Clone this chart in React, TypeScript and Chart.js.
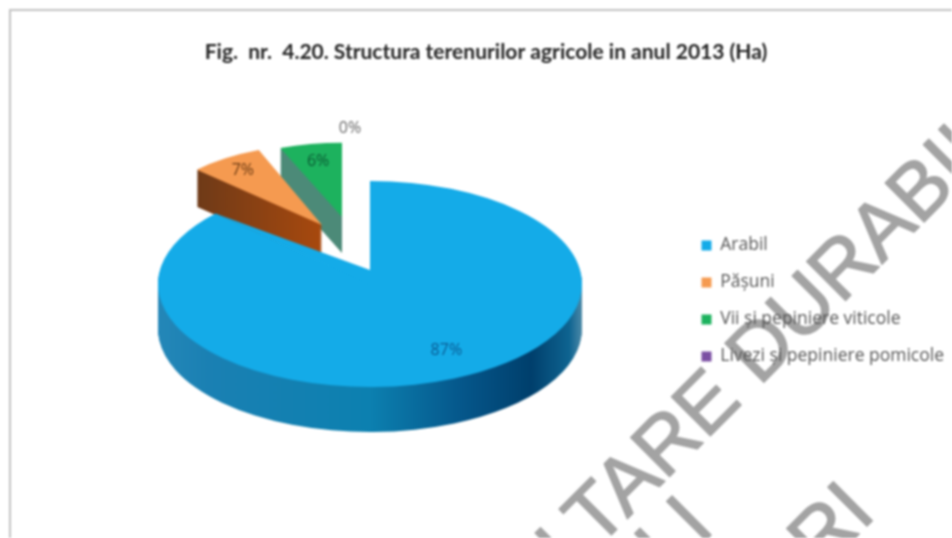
import React, { useEffect, useRef } from "react";
import { Chart, registerables } from "chart.js";

Chart.register(...registerables);

const categories = ["Arabil", "Pășuni", "Vii și pepiniere viticole", "Livezi și pepiniere pomicole"];
const shares = [87, 7, 6, 0];
const percentLabels = ["87%", "7%", "6%", "0%"];
const titleText = "Fig.  nr.  4.20. Structura terenurilor agricole in anul 2013 (Ha)";
const sliceColors = ["#14ABE8", "#F59A50", "#1DB25E", "#7B4FA3"];
const labelColors = ["#0A5A92", "#6B3A12", "#0B5A34", "#666666"];

// Per-slice perspective of the 3D pie (shift + scale relative to the chart's pie centre).
const slicePose = [
  { dx: 0, dy: 0, sx: 1, sy: 0.486, depth: 45, labelR: 0.8, lx: 9, ly: -9 },
  { dx: -48, dy: -59, sx: 0.81, sy: 0.38, depth: 37, labelR: 0.82, lx: 0, ly: 0 },
  { dx: -28, dy: -67, sx: 0.79, sy: 0.35, depth: 36, labelR: 0.76, lx: 0, ly: 0 },
  { dx: -20, dy: -67, sx: 0.79, sy: 0.35, depth: 0, labelR: 1.2, lx: 0, ly: 0 },
];
const apexLift = 14;

const pie3d = {
  id: "pie3d",
  afterLayout(chart: any) {
    const lg = chart.legend;
    const shiftY = 89;
    lg.left = 682;
    lg.right = 952;
    lg.top += shiftY;
    lg.bottom += shiftY;
    chart.titleBlock.left = 0;
    chart.titleBlock.right = 972;
  },
  beforeDraw(chart: any) {
    const c = chart.ctx;
    c.save();
    c.strokeStyle = "#c2c2c2";
    c.lineWidth = 2;
    c.beginPath();
    c.moveTo(10, 538);
    c.lineTo(10, 10);
    c.lineTo(952, 10);
    c.stroke();
    c.restore();
  },
  beforeDatasetDraw(chart: any) {
    const c = chart.ctx;
    const arcs = chart.getDatasetMeta(0).data;
    const { left, right } = chart.chartArea;
    const mainGrad = c.createLinearGradient(left, 0, right, 0);
    mainGrad.addColorStop(0, "#2487b8");
    mainGrad.addColorStop(0.12, "#1a80b3");
    mainGrad.addColorStop(0.5, "#0c80b0");
    mainGrad.addColorStop(0.72, "#05568a");
    mainGrad.addColorStop(0.88, "#003f6c");
    mainGrad.addColorStop(0.97, "#0e6491");
    mainGrad.addColorStop(1, "#4d8aa8");
    const cx = (left + right) / 2;
    const brownGrad = c.createLinearGradient(cx - 155, 0, cx, 0);
    brownGrad.addColorStop(0, "#6e3a18");
    brownGrad.addColorStop(1, "#a8490e");
    const sides = [mainGrad, brownGrad, "#4c8a78", "#000"];
    const order = [2, 1, 0];
    order.forEach((i) => {
      const arc = arcs[i];
      const p = slicePose[i];
      const place = (d: number) => {
        c.translate(arc.x + p.dx, arc.y + p.dy + d);
        c.scale(p.sx, p.sy);
        c.translate(-arc.x, -arc.y);
      };
      const base = arc.options;
      arc.options = Object.create(base, { backgroundColor: { value: sides[i] } });
      for (let d = p.depth; d > 0; d--) {
        c.save();
        place(d);
        arc.draw(c);
        c.restore();
      }
      arc.options = base;
      c.save();
      place(0);
      arc.draw(c);
      c.restore();
      if (i === 0) {
        const ex = arc.x + arc.outerRadius * Math.cos(arc.endAngle);
        const ey = arc.y + p.sy * arc.outerRadius * Math.sin(arc.endAngle);
        c.save();
        c.fillStyle = sliceColors[0];
        c.beginPath();
        c.moveTo(arc.x, arc.y + 1);
        c.lineTo(arc.x, arc.y - apexLift);
        c.lineTo(ex, ey);
        c.closePath();
        c.fill();
        c.restore();
      }
    });
    return false;
  },
  afterDatasetsDraw(chart: any) {
    const c = chart.ctx;
    const arcs = chart.getDatasetMeta(0).data;
    c.save();
    c.font = '16px "Open Sans"';
    c.textAlign = "center";
    c.textBaseline = "middle";
    arcs.forEach((arc: any, i: number) => {
      const p = slicePose[i];
      const mid = (arc.startAngle + arc.endAngle) / 2;
      const r = arc.outerRadius * p.labelR;
      const x = arc.x + p.dx + p.sx * r * Math.cos(mid) + p.lx;
      const y = arc.y + p.dy + p.sy * r * Math.sin(mid) + p.ly;
      c.fillStyle = labelColors[i];
      c.fillText(percentLabels[i], x, y);
    });
    c.restore();
  },
  afterDraw(chart: any) {
    const c = chart.ctx;
    c.save();
    c.globalCompositeOperation = "darken";
    c.fillStyle = "#a3a3a3";
    c.strokeStyle = "#a3a3a3";
    c.lineWidth = 1.5;
    c.lineJoin = "round";
    c.font = '80px "Liberation Sans"';
    c.textBaseline = "alphabetic";
    const put = (x: number, y: number, text: string, skip: string) => {
      c.save();
      c.translate(x, y);
      c.rotate(-Math.PI / 4);
      c.textAlign = "left";
      const off = -c.measureText(skip).width;
      c.fillText(text, off, 0);
      c.strokeText(text, off, 0);
      c.restore();
    };
    put(601, 545, "CONSULTARE DURABILĂ", "CONSUL");
    put(669, 577, "LI", "");
    put(821, 572, "RI", "");
    c.restore();
  },
};

export default function App() {
  const ref = useRef<HTMLCanvasElement>(null);
  useEffect(() => {
    const chart = new Chart(ref.current!, {
      type: "pie",
      data: {
        labels: categories,
        datasets: [{ data: shares, backgroundColor: sliceColors, borderWidth: 0 }],
      },
      options: {
        animation: false,
        responsive: false,
        layout: { padding: { left: 158, right: 370, top: 0, bottom: 42 } },
        plugins: {
          tooltip: { enabled: false },
          title: {
            display: true,
            text: titleText,
            color: "#222222",
            font: { family: "Lato", size: 21, weight: "bold", lineHeight: 1.2 },
            padding: { top: 40, bottom: 6.8 },
          },
          legend: {
            position: "chartArea",
            labels: {
              boxWidth: 10,
              boxHeight: 10,
              padding: 19.5,
              color: "#555555",
              font: { family: '"Open Sans"', size: 17.5 },
            },
          },
        },
      },
      plugins: [pie3d],
    } as any);
    return () => chart.destroy();
  }, []);
  return (
    <div style={{ position: "absolute", left: 0, top: 0, width: 952, height: 538, background: "#fff" }}>
      <canvas ref={ref} width={952} height={538} style={{ display: "block", filter: "blur(0.8px)" }} />
    </div>
  );
}
